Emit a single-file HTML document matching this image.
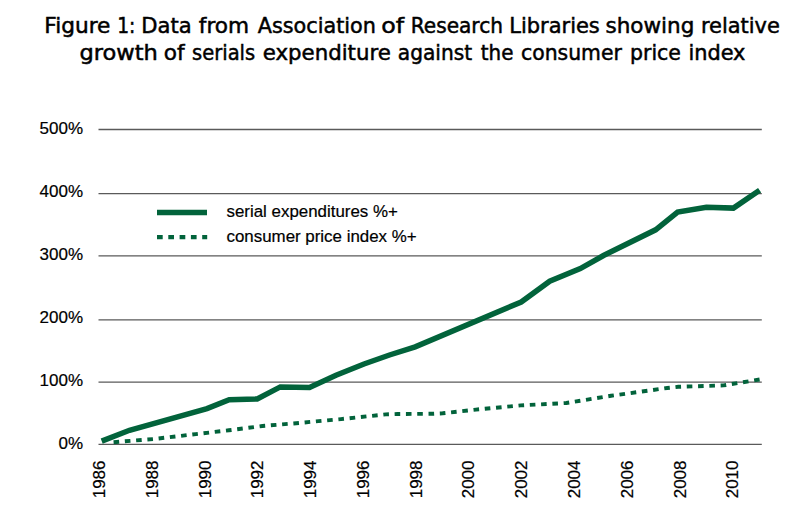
<!DOCTYPE html>
<html><head><meta charset="utf-8"><style>
html,body{margin:0;padding:0;background:#fff;}
body{width:797px;height:528px;overflow:hidden;position:relative;}
svg{position:absolute;left:0;top:0;}
.t{font-family:"DejaVu Sans",sans-serif;font-size:21px;fill:#000;stroke:#000;stroke-width:0.5px;}
.a{font-family:"Liberation Sans",Arial,sans-serif;font-size:17px;fill:#000;stroke:#000;stroke-width:0.2px;}
.l{font-family:"Liberation Sans",Arial,sans-serif;font-size:16.9px;fill:#000;stroke:#000;stroke-width:0.2px;}
</style></head><body>
<svg width="797" height="528" viewBox="0 0 797 528">
<text class="t"><tspan x="44.24" y="32.7" textLength="66.19" lengthAdjust="spacingAndGlyphs">Figure</tspan> <tspan x="117.22" y="32.7" textLength="18.16" lengthAdjust="spacingAndGlyphs">1:</tspan> <tspan x="141.39" y="32.7" textLength="50.37" lengthAdjust="spacingAndGlyphs">Data</tspan> <tspan x="198.80" y="32.7" textLength="50.31" lengthAdjust="spacingAndGlyphs">from</tspan> <tspan x="257.80" y="32.7" textLength="118.16" lengthAdjust="spacingAndGlyphs">Association</tspan> <tspan x="381.37" y="32.7" textLength="22.88" lengthAdjust="spacingAndGlyphs">of</tspan> <tspan x="410.79" y="32.7" textLength="92.19" lengthAdjust="spacingAndGlyphs">Research</tspan> <tspan x="509.30" y="32.7" textLength="90.49" lengthAdjust="spacingAndGlyphs">Libraries</tspan> <tspan x="605.48" y="32.7" textLength="88.89" lengthAdjust="spacingAndGlyphs">showing</tspan> <tspan x="700.90" y="32.7" textLength="79.02" lengthAdjust="spacingAndGlyphs">relative</tspan></text>
<text class="t"><tspan x="79.43" y="59.5" textLength="78.33" lengthAdjust="spacingAndGlyphs">growth</tspan> <tspan x="163.77" y="59.5" textLength="20.86" lengthAdjust="spacingAndGlyphs">of</tspan> <tspan x="192.07" y="59.5" textLength="63.11" lengthAdjust="spacingAndGlyphs">serials</tspan> <tspan x="262.79" y="59.5" textLength="128.06" lengthAdjust="spacingAndGlyphs">expenditure</tspan> <tspan x="397.84" y="59.5" textLength="74.37" lengthAdjust="spacingAndGlyphs">against</tspan> <tspan x="480.80" y="59.5" textLength="32.65" lengthAdjust="spacingAndGlyphs">the</tspan> <tspan x="521.03" y="59.5" textLength="100.87" lengthAdjust="spacingAndGlyphs">consumer</tspan> <tspan x="630.03" y="59.5" textLength="50.84" lengthAdjust="spacingAndGlyphs">price</tspan> <tspan x="688.41" y="59.5" textLength="57.04" lengthAdjust="spacingAndGlyphs">index</tspan></text>
<g stroke="#5a5a5a" stroke-width="1.3" fill="none">
<line x1="98.5" y1="129.5" x2="761.8" y2="129.5"/>
<line x1="98.5" y1="193.6" x2="761.8" y2="193.6"/>
<line x1="98.5" y1="255.8" x2="761.8" y2="255.8"/>
<line x1="98.5" y1="319.8" x2="761.8" y2="319.8"/>
<line x1="98.5" y1="382.1" x2="761.8" y2="382.1"/>
<line x1="98.5" y1="444.3" x2="761.8" y2="444.3"/>
</g>
<g class="a">
<text x="83" y="133.6" text-anchor="end">500%</text>
<text x="83" y="196.6" text-anchor="end">400%</text>
<text x="83" y="259.6" text-anchor="end">300%</text>
<text x="83" y="322.6" text-anchor="end">200%</text>
<text x="83" y="385.6" text-anchor="end">100%</text>
<text x="83" y="448.7" text-anchor="end">0%</text>
</g>
<g class="a">
<text transform="translate(105.00,460.5) rotate(-90)" text-anchor="end">1986</text>
<text transform="translate(157.78,460.5) rotate(-90)" text-anchor="end">1988</text>
<text transform="translate(210.55,460.5) rotate(-90)" text-anchor="end">1990</text>
<text transform="translate(263.32,460.5) rotate(-90)" text-anchor="end">1992</text>
<text transform="translate(316.10,460.5) rotate(-90)" text-anchor="end">1994</text>
<text transform="translate(368.88,460.5) rotate(-90)" text-anchor="end">1996</text>
<text transform="translate(421.65,460.5) rotate(-90)" text-anchor="end">1998</text>
<text transform="translate(474.43,460.5) rotate(-90)" text-anchor="end">2000</text>
<text transform="translate(527.20,460.5) rotate(-90)" text-anchor="end">2002</text>
<text transform="translate(579.97,460.5) rotate(-90)" text-anchor="end">2004</text>
<text transform="translate(632.75,460.5) rotate(-90)" text-anchor="end">2006</text>
<text transform="translate(685.52,460.5) rotate(-90)" text-anchor="end">2008</text>
<text transform="translate(738.30,460.5) rotate(-90)" text-anchor="end">2010</text>
</g>
<polyline points="108.5,442.6 153.0,439.1 195.9,434.1 228.9,430.3 262.4,426.0 296.3,423.2 341.0,419.1 385.8,414.4 397.5,414.0 431.4,413.8 442.7,413.3 476.0,409.6 520.8,405.4 566.4,403.0 611.0,395.8 667.2,388.0 678.3,386.8 723.5,385.4 759.6,379.5" fill="none" stroke="#02633b" stroke-width="3.9" stroke-dasharray="5.6 5.7" stroke-dashoffset="6.2"/>
<polyline points="101.7,441.1 129.5,430.3 207.0,408.6 229.2,399.7 257.2,398.9 280.3,386.9 309.5,387.4 336.0,375.2 364.0,364.0 389.5,355.0 415.2,346.9 521.2,302.0 549.7,281.2 580.3,268.6 603.5,255.5 655.6,229.8 677.6,212.0 706.4,207.2 733.4,208.1 759.6,190.3" fill="none" stroke="#02633b" stroke-width="5.5" stroke-linejoin="miter"/>
<line x1="157" y1="212.6" x2="207" y2="212.6" stroke="#02633b" stroke-width="5.5"/>
<line x1="157" y1="237.1" x2="207.2" y2="237.1" stroke="#02633b" stroke-width="4.2" stroke-dasharray="5.7 5.6"/>
<text class="l" x="226.5" y="216.8">serial expenditures %+</text>
<text class="l" x="226.5" y="242.4">consumer price index %+</text>
</svg>
</body></html>
